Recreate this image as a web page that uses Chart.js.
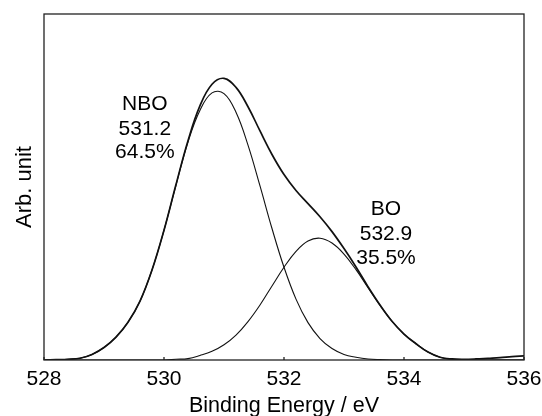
<!DOCTYPE html>
<html><head><meta charset="utf-8">
<script src="https://cdn.jsdelivr.net/npm/chart.js@4/dist/chart.umd.min.js"></script>
<style>html,body{margin:0;padding:0;background:#fff;}canvas{display:block;}</style>
</head><body>
<canvas id="c" width="542" height="416"></canvas>
<script>
// Binding energy grid (eV)
const energy = [528.0,528.2,528.4,528.6,528.8,529.0,529.2,529.4,529.6,529.8,
  530.0,530.2,530.4,530.6,530.8,531.0,531.2,531.4,531.6,531.8,
  532.0,532.2,532.4,532.6,532.8,533.0,533.2,533.4,533.6,533.8,
  534.0,534.2,534.4,534.6,534.8,535.0,535.2,535.4,535.6,535.8,536.0];
// NBO component (arb. units)
const nbo = [0,0.1,0.2,0.5,1.6,3.6,6.6,10.9,17.0,26.0,
  37.5,50.5,63.0,72.2,77.2,77.0,71.6,62.1,50.3,38.0,
  26.8,17.6,10.8,6.2,3.3,1.6,0.8,0.3,0.1,0,
  0,0,0,0,0,0,0,0,0,0,0];
// BO component (arb. units)
const bo = [0,0,0,0,0,0,0,0,0,0,
  0,0.2,0.4,1.3,2.5,4.4,7.2,11.1,15.9,21.4,
  26.8,31.4,34.4,35.2,33.8,30.6,26.1,20.9,15.8,11.2,
  7.5,4.7,2.3,0.8,0.2,0,0,0,0,0,0];
// Measured envelope (arb. units)
const envelope = [0,0.1,0.2,0.5,1.6,3.6,6.6,10.9,17.0,26.0,
  37.5,50.7,63.4,73.5,79.7,81.4,78.8,73.2,66.2,59.4,
  53.6,49.0,45.2,41.4,37.1,32.2,26.9,21.2,15.9,11.2,
  7.5,4.7,2.3,0.8,0.3,0.2,0.3,0.5,0.7,1.0,1.2];
// Axis ticks
const xTicks = [528,530,532,534,536];
// Peak annotations
const nboLabel = ['NBO','531.2','64.5%'];
const boLabel = ['BO','532.9','35.5%'];

const FONT = '"Liberation Sans", Arial, Helvetica, sans-serif';
const annotations = [
  {lines: nboLabel, x: 529.68, y: [73.9, 66.6, 60.0]},
  {lines: boLabel,  x: 533.70, y: [43.5, 36.4, 29.5]}
];

const extras = {
  id: 'extras',
  afterDatasetsDraw(chart) {
    const {ctx, chartArea: a, scales: {x, y}} = chart;
    ctx.save();
    ctx.strokeStyle = '#222';
    ctx.lineWidth = 1.3;
    ctx.strokeRect(a.left, a.top, a.right - a.left, a.bottom - a.top);
    xTicks.forEach(v => {
      const px = x.getPixelForValue(v);
      ctx.beginPath(); ctx.moveTo(px, a.bottom); ctx.lineTo(px, a.bottom - 3); ctx.stroke();
    });
    ctx.fillStyle = '#000';
    ctx.font = '21px ' + FONT;
    ctx.textAlign = 'center';
    ctx.textBaseline = 'middle';
    annotations.forEach(an => an.lines.forEach((t, i) =>
      ctx.fillText(t, x.getPixelForValue(an.x), y.getPixelForValue(an.y[i]))));
    ctx.restore();
  }
};

function series(vals, w) {
  return {
    data: energy.map((e, i) => ({x: e, y: vals[i]})),
    borderColor: '#111', borderWidth: w, pointRadius: 0, fill: false,
    tension: 0.4
  };
}

new Chart(document.getElementById('c'), {
  type: 'line',
  data: {datasets: [series(envelope, 1.7), series(nbo, 1.1), series(bo, 1.1)]},
  options: {
    responsive: false, animation: false, devicePixelRatio: 1,
    layout: {padding: {top: 14, right: 18, bottom: 0, left: 0}},
    plugins: {legend: {display: false}, tooltip: {enabled: false}},
    scales: {
      x: {
        type: 'linear', position: 'bottom', min: 528, max: 536,
        grid: {display: false, drawTicks: false}, border: {display: false},
        afterBuildTicks: s => { s.ticks = xTicks.map(v => ({value: v})); },
        ticks: {color: '#000', font: {family: FONT, size: 21}, padding: 7, maxRotation: 0, autoSkip: false},
        title: {display: true, text: 'Binding Energy / eV', color: '#000',
          font: {family: FONT, size: 21.5}, padding: {top: 0, bottom: -3}},
        afterFit: s => { s.height = 56; s.paddingLeft = 0; s.paddingRight = 0; }
      },
      y: {
        min: 0, max: 100,
        grid: {display: false, drawTicks: false}, border: {display: false},
        ticks: {display: false},
        title: {display: true, text: 'Arb. unit', color: '#000',
          font: {family: FONT, size: 22}, padding: {top: 12, bottom: 0}},
        afterFit: s => { s.width = 44; }
      }
    }
  },
  plugins: [extras]
});
</script>
</body></html>
